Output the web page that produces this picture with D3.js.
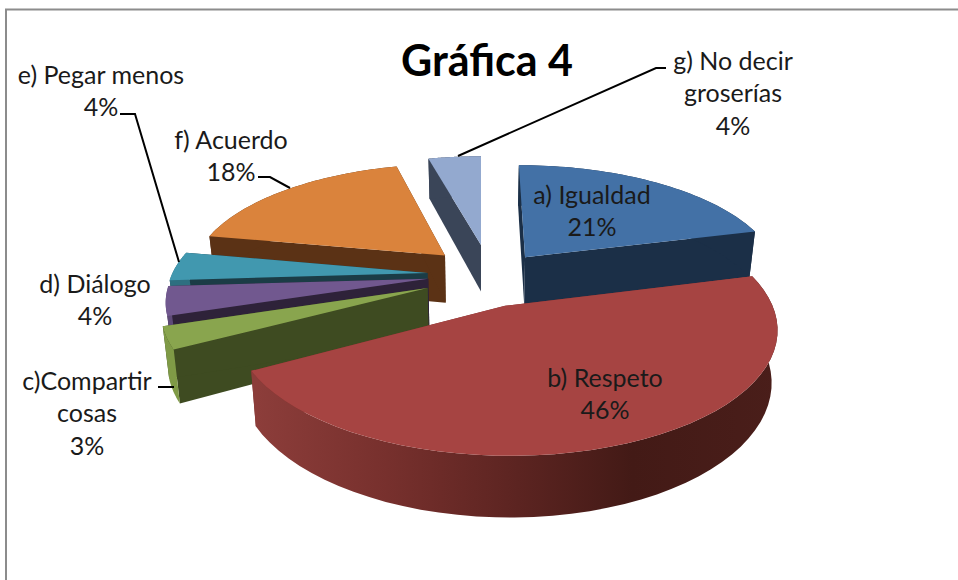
<!DOCTYPE html>
<html>
<head>
<meta charset="utf-8">
<script src="https://cdn.jsdelivr.net/npm/d3@7"></script>
<style>
  html, body { margin: 0; padding: 0; background: #fff; }
  svg { display: block; }
</style>
</head>
<body>
<div id="wrapper"></div>
<script>
const categories = ["a) Igualdad", "b) Respeto", "c)Compartir cosas", "d) Diálogo", "e) Pegar menos", "f) Acuerdo", "g) No decir groserías"];
const percents = [21, 46, 3, 4, 4, 18, 4];

const topColors = ["#4371a6", "#a64442", "#89a54e", "#71588f", "#4198af", "#da833c", "#93a9cf"];
const sideColors = ["#1b2f47", "#7a2f2c", "#3e4b21", "#2e2239", "#1b3c46", "#5b3215", "#3a4558"];
const outerColors = ["#1b2f47", "url(#respetoSide)", "#7f9a46", "#5e4a78", "#2d6f80", "#5b3215", "#3a4558"];

// how far each slice is pulled out of the pie (disc units, x and depth)
const shiftX = [0.177, 0.09, -0.205, -0.205, -0.21, -0.145, 0];
const shiftDepth = [-0.215, 0.208, 0.06, -0.02, -0.07, -0.23, -0.33];
const paintOrder = [6, 0, 5, 4, 3, 2, 1];

// text blocks: centre x, centre y of first line, lines
const labelBlocks = [
    { x: 592, y: 195, lines: ["a) Igualdad", "21%"] },
    { x: 605, y: 378, lines: ["b) Respeto", "46%"] },
    { x: 87, y: 381, lines: ["c)Compartir", "cosas", "3%"] },
    { x: 95, y: 284, lines: ["d) Diálogo", "4%"] },
    { x: 101, y: 75, lines: ["e) Pegar menos", "4%"] },
    { x: 231, y: 140, lines: ["f) Acuerdo", "18%"] },
    { x: 733, y: 61, lines: ["g) No decir", "groserías", "4%"] }
];
const leaders = [
    [[158, 387], [174, 387]],
    [[120, 114], [135, 114], [179, 262]],
    [[258, 177], [270, 177], [290, 188]],
    [[666, 68], [656, 68], [458, 156]]
];

const dimension = { width: 958, height: 580 };
const view = { cx: 481, cy: 281, rx: 258, ry: 115, persp: 0.17, depth: 49, lowerShrink: 0.98 };

const svg = d3.select("#wrapper").append("svg")
    .attr("width", dimension.width)
    .attr("height", dimension.height)
    .style("font-family", "Lato, sans-serif");

const grad = svg.append("defs").append("linearGradient")
    .attr("id", "respetoSide")
    .attr("gradientUnits", "userSpaceOnUse")
    .attr("x1", 257).attr("x2", 778).attr("y1", 0).attr("y2", 0);
[[0, "#8c3d3a"], [0.25, "#77302d"], [0.5, "#5c2421"], [0.72, "#431a16"], [1, "#4a1e1a"]].forEach(s => {
    grad.append("stop").attr("offset", s[0]).attr("stop-color", s[1]);
});

// chart frame, only the top and left edges are inside the picture
svg.append("path")
    .attr("d", "M6,580V9.5H958")
    .attr("fill", "none")
    .attr("stroke", "#8c8c8c")
    .attr("stroke-width", 2);

const pie = d3.pie().sort(null).value(d => d);
const arcs = pie(percents);
const line = d3.line();

// project a disc point to the screen, lifted = false gives the lower rim
function project(u, v, lifted) {
    const s = 1 / (1 - view.persp * v);
    if (lifted) return [view.cx + view.rx * u * s, view.cy + view.ry * v * s];
    return [view.cx + view.rx * u * s * view.lowerShrink, view.cy + view.ry * v * s + view.depth * s];
}

function rimPoint(i, angle, lifted) {
    return project(shiftX[i] + Math.sin(angle), shiftDepth[i] - Math.cos(angle), lifted);
}

const slices = svg.append("g");

paintOrder.forEach(i => {
    const arc = arcs[i];
    const angles = d3.range(0, 49).map(k => arc.startAngle + (arc.endAngle - arc.startAngle) * k / 48);
    const apexTop = project(shiftX[i], shiftDepth[i], true);
    const apexLow = project(shiftX[i], shiftDepth[i], false);
    const g = slices.append("g");

    [arc.startAngle, arc.endAngle].forEach(a => {
        g.append("path")
            .attr("d", line([apexTop, rimPoint(i, a, true), rimPoint(i, a, false), apexLow]) + "Z")
            .attr("fill", sideColors[i]);
    });

    const outer = angles.map(a => rimPoint(i, a, true))
        .concat(angles.slice().reverse().map(a => rimPoint(i, a, false)));
    g.append("path")
        .attr("d", line(outer) + "Z")
        .attr("fill", outerColors[i]);

    g.append("path")
        .attr("d", line([apexTop].concat(angles.map(a => rimPoint(i, a, true)))) + "Z")
        .attr("fill", topColors[i]);
});

svg.append("g").selectAll("path")
    .data(leaders)
    .join("path")
    .attr("d", d => line(d))
    .attr("fill", "none")
    .attr("stroke", "#000")
    .attr("stroke-width", 2);

const texts = svg.append("g").attr("fill", "#1a1a1a").attr("font-size", 25).attr("text-anchor", "middle");
labelBlocks.forEach(b => {
    b.lines.forEach((t, k) => {
        texts.append("text")
            .attr("x", b.x)
            .attr("y", b.y + k * 32.5)
            .attr("dy", "0.35em")
            .text(t);
    });
});

svg.append("text")
    .attr("x", 487)
    .attr("y", 76)
    .attr("text-anchor", "middle")
    .attr("font-size", 43)
    .attr("font-weight", 700)
    .attr("fill", "#000")
    .text("Gráfica 4");
</script>
</body>
</html>
